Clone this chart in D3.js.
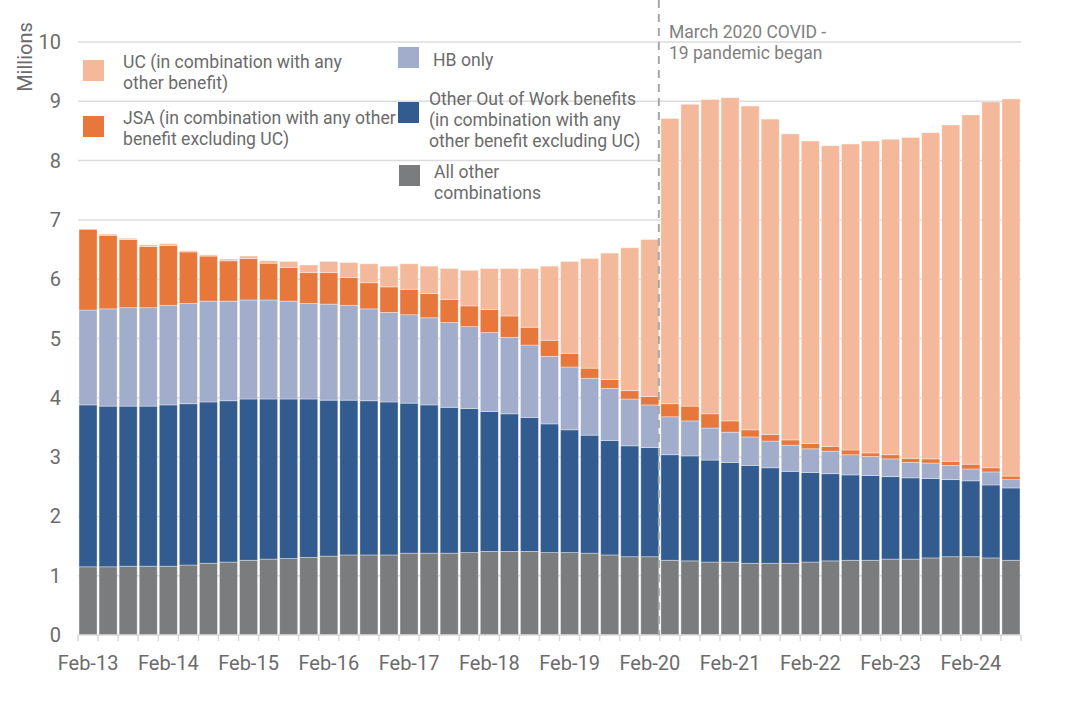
<!DOCTYPE html>
<html>
<head>
<meta charset="utf-8">
<script src="https://cdn.jsdelivr.net/npm/d3@7"></script>
<style>
  html, body { margin: 0; padding: 0; background: #fff; }
  svg { display: block; font-family: Roboto, "Noto Sans", sans-serif; }
</style>
</head>
<body>
<svg id="chart" width="1080" height="709"></svg>
<script>
const categories = [
  "Feb-13","May-13","Aug-13","Nov-13","Feb-14","May-14","Aug-14","Nov-14",
  "Feb-15","May-15","Aug-15","Nov-15","Feb-16","May-16","Aug-16","Nov-16",
  "Feb-17","May-17","Aug-17","Nov-17","Feb-18","May-18","Aug-18","Nov-18",
  "Feb-19","May-19","Aug-19","Nov-19","Feb-20","May-20","Aug-20","Nov-20",
  "Feb-21","May-21","Aug-21","Nov-21","Feb-22","May-22","Aug-22","Nov-22",
  "Feb-23","May-23","Aug-23","Nov-23","Feb-24","May-24","Aug-24"
];
const tickLabels = ["Feb-13","Feb-14","Feb-15","Feb-16","Feb-17","Feb-18","Feb-19","Feb-20","Feb-21","Feb-22","Feb-23","Feb-24"];
const yTicks = [0,1,2,3,4,5,6,7,8,9,10];

// Millions, bottom to top
const allOther = [1.15,1.15,1.16,1.16,1.16,1.18,1.21,1.23,1.26,1.28,1.29,1.31,1.33,1.35,1.35,1.35,
  1.38,1.38,1.38,1.39,1.41,1.41,1.41,1.39,1.39,1.38,1.35,1.32,1.32,1.26,1.25,1.23,
  1.23,1.21,1.21,1.21,1.23,1.25,1.26,1.26,1.28,1.28,1.30,1.32,1.32,1.30,1.26];
const otherOOW = [2.73,2.71,2.70,2.70,2.72,2.72,2.72,2.72,2.72,2.70,2.69,2.67,2.63,2.61,2.60,2.58,
  2.53,2.50,2.46,2.43,2.36,2.32,2.26,2.17,2.07,1.99,1.93,1.87,1.84,1.78,1.77,1.72,
  1.68,1.65,1.61,1.55,1.51,1.47,1.44,1.43,1.39,1.37,1.34,1.30,1.28,1.23,1.22];
const hbOnly = [1.60,1.64,1.66,1.66,1.68,1.69,1.70,1.68,1.67,1.67,1.65,1.61,1.62,1.60,1.55,1.51,
  1.49,1.47,1.43,1.38,1.33,1.29,1.22,1.14,1.06,0.96,0.88,0.79,0.72,0.64,0.59,0.54,
  0.51,0.48,0.45,0.44,0.40,0.38,0.34,0.32,0.30,0.26,0.26,0.24,0.20,0.22,0.14];
const jsa = [1.36,1.24,1.15,1.03,1.01,0.87,0.76,0.68,0.70,0.62,0.57,0.52,0.53,0.47,0.44,0.43,
  0.43,0.41,0.39,0.35,0.39,0.36,0.30,0.27,0.23,0.17,0.15,0.14,0.14,0.22,0.25,0.24,
  0.19,0.12,0.11,0.09,0.09,0.08,0.08,0.06,0.07,0.07,0.07,0.07,0.08,0.07,0.06];
const uc = [0.00,0.02,0.02,0.03,0.03,0.02,0.02,0.03,0.04,0.04,0.10,0.13,0.19,0.25,0.32,0.35,
  0.43,0.46,0.52,0.60,0.69,0.80,0.99,1.25,1.55,1.85,2.13,2.41,2.65,4.81,5.09,5.30,
  5.45,5.46,5.32,5.16,5.10,5.07,5.16,5.26,5.32,5.41,5.50,5.67,5.89,6.17,6.36];

const seriesKeys = ["allOther","otherOOW","hbOnly","jsa","uc"];
const seriesValues = {allOther, otherOOW, hbOnly, jsa, uc};
const colors = {allOther:"#7b7c7e", otherOOW:"#325b8f", hbOnly:"#a2adcb", jsa:"#e7773a", uc:"#f4b99b"};

const rows = categories.map((c, i) => {
  const r = {cat: c};
  seriesKeys.forEach(k => r[k] = seriesValues[k][i]);
  return r;
});

const svg = d3.select("#chart");
const plotLeft = 78, plotRight = 1021, plotTop = 42, plotBottom = 635;
const textCol = "#6b6b6b";

const x = d3.scaleBand().domain(categories).range([plotLeft, plotRight]).paddingInner(0.1).paddingOuter(0.05);
const y = d3.scaleLinear().domain([0, 10]).range([plotBottom, plotTop]);

// gridlines
svg.append("g").selectAll("line").data(yTicks.filter(d => d > 0)).join("line")
  .attr("x1", plotLeft).attr("x2", plotRight)
  .attr("y1", d => y(d)).attr("y2", d => y(d))
  .attr("stroke", "#dcdcdc").attr("stroke-width", 1.5);

// y labels
svg.append("g").selectAll("text").data(yTicks).join("text")
  .attr("x", 61).attr("y", d => y(d) + 7)
  .attr("text-anchor", "end").attr("font-size", 20).attr("fill", textCol)
  .text(d => d);

svg.append("text")
  .attr("transform", "translate(32,57) rotate(-90)")
  .attr("text-anchor", "middle").attr("font-size", 20).attr("fill", textCol)
  .text("Millions");

// stacked bars
const stacked = d3.stack().keys(seriesKeys)(rows);
svg.append("g").selectAll("g").data(stacked).join("g")
  .attr("fill", d => colors[d.key])
  .selectAll("rect").data(d => d).join("rect")
  .attr("x", d => x(d.data.cat))
  .attr("width", x.bandwidth())
  .attr("y", d => y(d[1]))
  .attr("height", d => Math.max(0, y(d[0]) - y(d[1])))
  .attr("stroke", "#ffffff").attr("stroke-opacity", 0.45).attr("stroke-width", 0.8);

// x axis line and ticks at band boundaries
svg.append("line").attr("x1", plotLeft).attr("x2", plotRight).attr("y1", plotBottom).attr("y2", plotBottom)
  .attr("stroke", "#d9d9d9").attr("stroke-width", 1.5);
const step = x.step();
const boundaries = categories.map(c => x(c) - step * x.paddingInner() / 2)
  .concat([x(categories[categories.length - 1]) + x.bandwidth() + step * x.paddingInner() / 2]);
svg.append("g").selectAll("line").data(boundaries).join("line")
  .attr("x1", d => d).attr("x2", d => d).attr("y1", plotBottom).attr("y2", plotBottom + 6)
  .attr("stroke", "#d9d9d9").attr("stroke-width", 1.5);

svg.append("g").selectAll("text").data(tickLabels).join("text")
  .attr("x", d => x(d) + x.bandwidth() / 2).attr("y", 670)
  .attr("text-anchor", "middle").attr("font-size", 20).attr("fill", textCol)
  .text(d => d);

// COVID marker
const covidX = x("May-20") - step * x.paddingInner() / 2 - 1;
svg.append("line").attr("x1", covidX).attr("x2", covidX).attr("y1", 0).attr("y2", plotBottom)
  .attr("stroke", "#a6a6a6").attr("stroke-width", 2).attr("stroke-dasharray", "8,6");
svg.append("text").attr("x", 669).attr("y", 38).attr("font-size", 17.5).attr("fill", "#808080")
  .selectAll("tspan").data(["March 2020 COVID -", "19 pandemic began"]).join("tspan")
  .attr("x", 669).attr("dy", (d, i) => i === 0 ? 0 : 21).text(d => d);

// legend
const legend = [
  {key: "uc", sx: 83, sy: 60, tx: 123, ty: 68, lines: ["UC (in combination with any", "other benefit)"]},
  {key: "jsa", sx: 83, sy: 116, tx: 123, ty: 124, lines: ["JSA (in combination with any other", "benefit excluding UC)"]},
  {key: "hbOnly", sx: 398, sy: 47, tx: 433, ty: 66, lines: ["HB only"]},
  {key: "otherOOW", sx: 398, sy: 102, tx: 429, ty: 105, lines: ["Other Out of Work benefits", "(in combination with any", "other benefit excluding UC)"]},
  {key: "allOther", sx: 399, sy: 165, tx: 434, ty: 178, lines: ["All other", "combinations"]}
];
const lg = svg.append("g").selectAll("g").data(legend).join("g");
lg.append("text").attr("font-size", 17.6).attr("fill", textCol)
  .attr("x", d => d.tx).attr("y", d => d.ty)
  .selectAll("tspan").data(d => d.lines.map(l => ({l, tx: d.tx}))).join("tspan")
  .attr("x", d => d.tx).attr("dy", (d, i) => i === 0 ? 0 : 21).text(d => d.l);
lg.append("rect").attr("x", d => d.sx).attr("y", d => d.sy).attr("width", 21).attr("height", 21)
  .attr("fill", d => colors[d.key]);
</script>
</body>
</html>
